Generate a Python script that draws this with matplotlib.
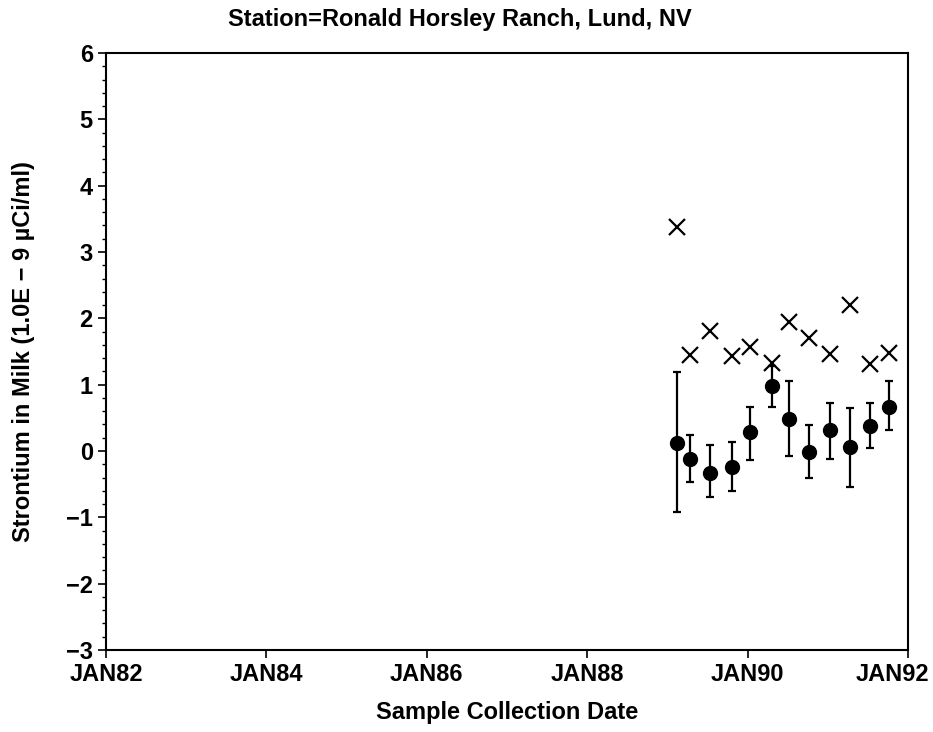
import matplotlib
matplotlib.use('Agg')
import matplotlib.pyplot as plt
import matplotlib.dates as mdates
import matplotlib.transforms as mtransforms
from matplotlib.ticker import MultipleLocator
import numpy as np
import datetime as dt

plt.rcParams['font.family'] = ['Liberation Sans', 'DejaVu Sans']

# sample collection dates
sampleDates = ['1989-02-12', '1989-04-12', '1989-07-16', '1989-10-20',
               '1990-01-11', '1990-04-24', '1990-07-08', '1990-10-08',
               '1991-01-11', '1991-04-12', '1991-07-12', '1991-10-08']
# measured strontium and 2-sigma bounds
strontium = [0.12, -0.12, -0.33, -0.24, 0.28, 0.98, 0.48, -0.02, 0.32, 0.06, 0.38, 0.66]
upperBound = [1.19, 0.24, 0.09, 0.13, 0.67, 1.28, 1.06, 0.39, 0.73, 0.65, 0.73, 1.05]
lowerBound = [-0.92, -0.47, -0.70, -0.60, -0.13, 0.67, -0.07, -0.41, -0.12, -0.54, 0.05, 0.32]
# minimum detectable concentration
mdc = [3.37, 1.45, 1.81, 1.43, 1.57, 1.32, 1.94, 1.71, 1.46, 2.20, 1.31, 1.48]

tickYears = [1982, 1984, 1986, 1988, 1990, 1992]

dates = [dt.datetime.strptime(d, '%Y-%m-%d') for d in sampleDates]
values = np.array(strontium)
yerr = [values - np.array(lowerBound), np.array(upperBound) - values]

fig = plt.figure(figsize=(9.33, 7.32), dpi=100)
ax = fig.add_axes([0.1136, 0.112, 0.8594, 0.8156])

ax.errorbar(dates, values, yerr=yerr, fmt='o', color='black', markersize=10,
            capsize=3, elinewidth=1.6, capthick=1.6)
ax.plot(dates, mdc, 'x', color='black', markersize=11, markeredgewidth=1.6)

ax.set_xlim(dt.datetime(1982, 1, 1), dt.datetime(1992, 1, 1))
ax.set_ylim(-3, 6)
ax.set_xticks([dt.datetime(y, 1, 1) for y in tickYears])
ax.xaxis.set_major_formatter(mdates.DateFormatter('JAN%y'))
ax.yaxis.set_major_locator(MultipleLocator(1))
ax.yaxis.set_minor_locator(MultipleLocator(0.2))

ax.tick_params(axis='both', which='major', labelsize=17, length=6, width=1.2, direction='out')
ax.tick_params(axis='y', which='minor', length=3, width=1)
for spine in ax.spines.values():
    spine.set_linewidth(1.5)

fig.canvas.draw()
xlabels = ax.get_xticklabels()
for label in xlabels + ax.get_yticklabels():
    label.set_fontweight('bold')
# last date label is pulled left so it stays inside the figure
shift = mtransforms.ScaledTranslation(-15 / 100, 0, fig.dpi_scale_trans)
xlabels[-1].set_transform(xlabels[-1].get_transform() + shift)

ax.set_xlabel('Sample Collection Date', fontsize=17, fontweight='bold', labelpad=11)
ax.set_ylabel('Strontium in Milk (1.0E \u2212 9 \u00b5Ci/ml)', fontsize=17,
              fontweight='bold', labelpad=22)
fig.text(0.493, 0.974, 'Station=Ronald Horsley Ranch, Lund, NV', fontsize=17,
         fontweight='bold', ha='center', va='center')

fig.savefig('out.png', dpi=100)
